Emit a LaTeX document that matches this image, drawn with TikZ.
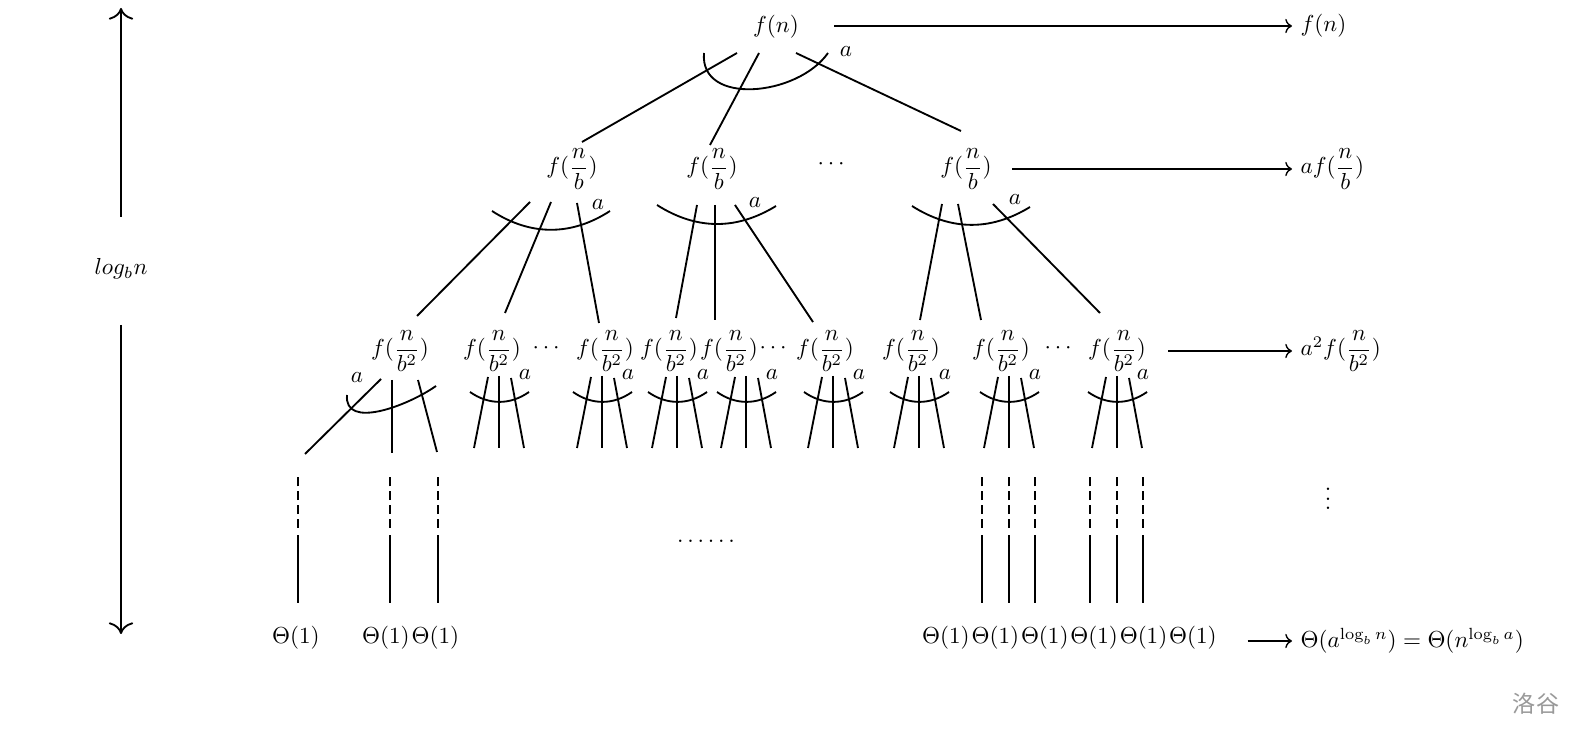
\documentclass[tikz,border=0pt]{standalone}
\usepackage{amsmath}
\usepackage{fontspec}
\newfontfamily\cjkfont{Noto Sans CJK SC}
\usetikzlibrary{positioning,arrows.meta}

\begin{document}
\begin{tikzpicture}[
        x=0.0152cm, y=-0.0152cm,
        thick,
        leaf/.style={inner sep=0pt},
        sum/.style={anchor=west},
        col/.style={dash pattern=on 4pt off 2pt},
        height/.style={-{To[scale=1.5]}},
        total/.style={->, semithick}
    ]
    \useasboundingbox (0,0) rectangle (1582,740);

    % tree levels
    \node (r) at (776,27) {$f(n)$};

    \node (c1) at (572,169) {$f(\dfrac{n}{b})$};
    \node (c2) at (712,169) {$f(\dfrac{n}{b})$};
    \node (c3) at (833,164) {$\cdots$};
    \node (c4) at (966,169) {$f(\dfrac{n}{b})$};

    \node (n1) at (400,351) {$f(\dfrac{n}{b^2})$};
    \node (n2) at (492,351) {$f(\dfrac{n}{b^2})$};
    \node (d1) at (548,348) {$\cdots$};
    \node (n3) at (605,351) {$f(\dfrac{n}{b^2})$};
    \node (n4) at (669,351) {$f(\dfrac{n}{b^2})$};
    \node (n5) at (729,351) {$f(\dfrac{n}{b^2})$};
    \node (d2) at (775,348) {$\cdots$};
    \node (n6) at (825,351) {$f(\dfrac{n}{b^2})$};
    \node (n7) at (911,351) {$f(\dfrac{n}{b^2})$};
    \node (n8) at (1001,351) {$f(\dfrac{n}{b^2})$};
    \node (d3) at (1060,348) {$\cdots$};
    \node (n9) at (1117,351) {$f(\dfrac{n}{b^2})$};

    \node (dd) at (706,541) {$\ldots\ldots$};

    \node[leaf] (t1) at (296,638) {$\Theta(1)$};
    \node[leaf] (t2) at (386,638) {$\Theta(1)$};
    \node[leaf, right=0pt of t2] (t3) {$\Theta(1)$};
    \node[leaf] (t4) at (946,638) {$\Theta(1)$};
    \foreach \i [count=\j from 5] in {4,...,8}
        \node[leaf, right=0pt of t\i] (t\j) {$\Theta(1)$};

    % root
    \draw ([shift={(-39,26)}]r.center) -- ([shift={(10,-27)}]c1.center);
    \draw ([shift={(-17,26)}]r.center) -- ([shift={(-2,-24)}]c2.center);
    \draw ([shift={(20,26)}]r.center) -- ([shift={(-5,-38)}]c4.center);
    \draw ([shift={(-72,26)}]r.center) to[out=-95,in=-125,looseness=1.1] ([shift={(52,26)}]r.center);
    \node (ar) at ([shift={(70,25)}]r.center) {$a$};

    % first level
    \draw ([shift={(-42,33)}]c1.center) -- ([shift={(17,-35)}]n1.center);
    \draw ([shift={(-21,33)}]c1.center) -- ([shift={(13,-38)}]n2.center);
    \draw ([shift={(5,34)}]c1.center) -- ([shift={(-6,-28)}]n3.center);
    \draw ([shift={(-80,42)}]c1.center) to[bend right=33] ([shift={(38,42)}]c1.center);
    \node (a1) at ([shift={(26,36)}]c1.center) {$a$};

    \draw ([shift={(-15,36)}]c2.center) -- ([shift={(7,-33)}]n4.center);
    \draw ([shift={(3,36)}]c2.center) -- ([shift={(-14,-31)}]n5.center);
    \draw ([shift={(23,36)}]c2.center) -- ([shift={(-12,-29)}]n6.center);
    \draw ([shift={(-55,36)}]c2.center) to[bend right=32] ([shift={(64,37)}]c2.center);
    \node (a2) at ([shift={(43,34)}]c2.center) {$a$};

    \draw ([shift={(-24,35)}]c4.center) -- ([shift={(9,-31)}]n7.center);
    \draw ([shift={(-8,35)}]c4.center) -- ([shift={(-20,-31)}]n8.center);
    \draw ([shift={(27,35)}]c4.center) -- ([shift={(-17,-38)}]n9.center);
    \draw ([shift={(-54,37)}]c4.center) to[bend right=32] ([shift={(64,38)}]c4.center);
    \node (a4) at ([shift={(49,31)}]c4.center) {$a$};

    % second level
    \draw ([shift={(-19,28)}]n1.center) -- ++(-76,75);
    \draw ([shift={(-8,29)}]n1.center) -- ++(0,73);
    \draw ([shift={(18,29)}]n1.center) -- ++(19,72);
    \draw ([shift={(-53,44)}]n1.center) to[out=-95,in=-145] ([shift={(36,35)}]n1.center);
    \node (an1) at ([shift={(-43,27)}]n1.center) {$a$};

    \foreach \nd/\dx in {n2/7,n3/-3,n4/8,n5/17,n6/8,n7/8,n8/8,n9/0} {
        \draw ([shift={(\dx-11,26)}]\nd.center) -- ++(-14,71);
        \draw ([shift={(\dx,25)}]\nd.center) -- ++(0,72);
        \draw ([shift={(\dx+12,27)}]\nd.center) -- ++(13,70);
        \draw ([shift={(\dx-29,41)}]\nd.center) to[bend right=35] ([shift={(\dx+30,41)}]\nd.center);
        \node (a\nd) at ([shift={(\dx+26,24)}]\nd.center) {$a$};
    }

    % down to the leaves
    \foreach \x [count=\k] in {298,390,438,982,1009,1035,1090,1117,1143} {
        \coordinate (e\k) at (\x,603);
        \draw (e\k) -- ++(0,-68);
        \draw[col] ([shift={(0,-75)}]e\k) -- ++(0,-55);
    }

    % sums of the levels
    \node[sum] (s0) at (1292,26) {$f(n)$};
    \node[sum] (s1) at (1292,169) {$af(\dfrac{n}{b})$};
    \node[sum] (s2) at (1292,351) {$a^2f(\dfrac{n}{b^2})$};
    \node (s3) at (1328,492) {$\vdots$};
    \node[sum] (s4) at (1292,641) {$\Theta(a^{\log_b n})=\Theta(n^{\log_b a})$};
    \draw[total] ([shift={(27,-1)}]r.east) -- (s0);
    \draw[total] ([shift={(12,0)}]c4.east) -- (s1);
    \draw[total] ([shift={(14,0)}]n9.east) -- (s2);
    \draw[total] ([shift={(30,3)}]t9.east) -- (s4);

    % height
    \node (lg) at (121,269) {$log_bn$};
    \draw[height] ([shift={(0,-52)}]lg.center) -- ++(0,-209);
    \draw[height] ([shift={(0,56)}]lg.center) -- ++(0,309);

    \node[text=black!40] (wm) at (1536,704) {\cjkfont 洛谷};
\end{tikzpicture}
\end{document}
